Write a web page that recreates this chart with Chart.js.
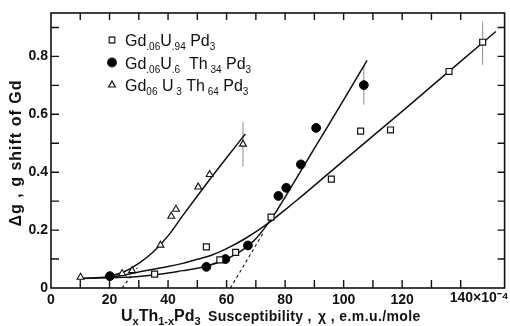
<!DOCTYPE html>
<html>
<head>
<meta charset="utf-8">
<script src="https://cdn.jsdelivr.net/npm/chart.js@4.4.1/dist/chart.umd.min.js"></script>
<style>
html,body{margin:0;padding:0;background:#fff;}
#wrap{width:510px;height:326px;position:relative;}
</style>
</head>
<body>
<div id="wrap"><canvas id="c" width="510" height="326"></canvas></div>
<script>
// ---- data ----
const squareX = [35.4, 53.1, 57.7, 63.1, 75.2, 95.8, 105.8, 116, 136, 147.5];
const squareY = [0.048, 0.142, 0.097, 0.123, 0.245, 0.376, 0.542, 0.546, 0.748, 0.849];
const circleX = [20.1, 53.1, 59.6, 67.3, 77.7, 80.4, 85.4, 90.6, 106.9];
const circleY = [0.041, 0.073, 0.100, 0.147, 0.318, 0.346, 0.427, 0.553, 0.701];
const triX = [10.1, 24.3, 27.7, 37.4, 41.1, 42.7, 50.3, 54.2, 65.6];
const triY = [0.037, 0.050, 0.060, 0.148, 0.248, 0.272, 0.349, 0.392, 0.497];

// drawn fit curves
const triFitX = [10, 15, 20, 25, 30, 35, 40, 45, 50, 55, 60, 66.4];
const triFitY = [0.033, 0.035, 0.041, 0.056, 0.085, 0.125, 0.18, 0.25, 0.318, 0.385, 0.45, 0.532];
const circFitX = [10, 20, 25, 30, 35, 40, 45, 50, 53.3, 60, 65, 67.6, 70, 73.3, 77, 80, 90, 100, 108];
const circFitY = [0.033, 0.035, 0.037, 0.040, 0.045, 0.052, 0.060, 0.068, 0.076, 0.100, 0.128, 0.148, 0.170, 0.211, 0.265, 0.314, 0.482, 0.650, 0.786];
const sqFitX = [20, 25, 30, 35, 40, 45, 50, 55, 60, 66.4, 73.3, 80, 84, 100, 120, 140, 152];
const sqFitY = [0.037, 0.045, 0.055, 0.065, 0.074, 0.085, 0.099, 0.114, 0.136, 0.171, 0.217, 0.27, 0.303, 0.44, 0.61, 0.783, 0.886];

// dashed extrapolations
const dashTriX = [24.3, 29.5];
const dashTriY = [0, 0.07];
const dashCircX = [61.3, 72.5];
const dashCircY = [0, 0.19];

// error bars [x, low, high]
const errSquare = [147.5, 0.77, 0.92];
const errCircle = [106.9, 0.633, 0.769];
const errTri = [65.6, 0.42, 0.573];

const xTickLabels = ['0', '20', '40', '60', '80', '100', '120'];
const xLastLabel = '140×10⁻⁴';
const yTickLabels = ['0', '0.2', '0.4', '0.6', '0.8'];

const legendRows = [
  {style: 'rect', fill: '#fff', parts: [['Gd',0],['.06',1],['U',0],['.94',1],[' Pd',0],['3',1]]},
  {style: 'circle', fill: '#000', parts: [['Gd',0],['.06',1],['U',0],['.6',1],['  Th',0],[' 34',1],[' Pd',0],['3',1]]},
  {style: 'triangle', fill: '#fff', parts: [['Gd',0],['06',1],[' U',0],[' 3',1],[' Th',0],[' 64',1],[' Pd',0],['3',1]]}
];
const xTitleParts1 = [['U',0],['x',1],['Th',0],['1-x',1],['Pd',0],['3',1]];
const xTitle2 = 'Susceptibility ,';
const xTitle3 = 'χ , e.m.u./mole';
const yTitle = 'Δg , g shift of Gd';

const zip = (xs, ys) => xs.map((x, i) => ({x, y: ys[i]}));
const FONT = '"Liberation Sans", Arial, sans-serif';

function richText(ctx, x, y, parts, size, subSize, weight) {
  let cx = x;
  for (const [t, sub] of parts) {
    ctx.font = `${weight} ${sub ? subSize : size}px ${FONT}`;
    ctx.fillText(t, cx, sub ? y + 4 : y);
    cx += ctx.measureText(t).width;
  }
}

const decor = {
  id: 'decor',
  afterDraw(chart) {
    const ctx = chart.ctx, a = chart.chartArea;
    const xs = chart.scales.x, ys = chart.scales.y;
    ctx.save();
    ctx.strokeStyle = '#111';
    ctx.lineWidth = 1.6;
    ctx.strokeRect(a.left, a.top, a.right - a.left, a.bottom - a.top);
    ctx.lineWidth = 1.4;
    ctx.beginPath();
    for (let v = 10; v <= 140; v += 10) {
      const px = xs.getPixelForValue(v);
      ctx.moveTo(px, a.bottom); ctx.lineTo(px, a.bottom - 8);
      ctx.moveTo(px, a.top); ctx.lineTo(px, a.top + 7);
    }
    for (let k = 1; k <= 9; k++) {
      const py = ys.getPixelForValue(k / 10);
      ctx.moveTo(a.left, py); ctx.lineTo(a.left + 8, py);
      ctx.moveTo(a.right, py); ctx.lineTo(a.right - 7, py);
    }
    ctx.stroke();

    ctx.fillStyle = '#111';
    ctx.textBaseline = 'alphabetic';
    // last x tick label
    ctx.font = `bold 14px ${FONT}`;
    ctx.textAlign = 'left';
    ctx.fillText(xLastLabel, xs.getPixelForValue(140) - 11, 302);

    // legend
    legendRows.forEach((r, i) => {
      const cy = 40 + i * 22.5;
      ctx.lineWidth = 1.2;
      ctx.strokeStyle = '#111';
      ctx.fillStyle = r.fill;
      Chart.helpers.drawPoint(ctx, {pointStyle: r.style, radius: r.style === 'circle' ? 4.3 : 4, borderWidth: 1.2}, 112, cy);
      ctx.fillStyle = '#111';
      richText(ctx, 125, cy + 6, r.parts, 16, 10, 'normal');
    });

    // x title
    ctx.fillStyle = '#111';
    richText(ctx, 121, 321, xTitleParts1, 16, 11, 'bold');
    ctx.font = `bold 14px ${FONT}`;
    ctx.letterSpacing = '0.3px';
    ctx.fillText(xTitle2, 208, 321);
    ctx.letterSpacing = '0.4px';
    ctx.fillText(xTitle3, 318, 321);

    // y title
    ctx.save();
    ctx.translate(21, 153);
    ctx.rotate(-Math.PI / 2);
    ctx.textAlign = 'center';
    ctx.font = `bold 16px ${FONT}`;
    ctx.letterSpacing = '1px';
    ctx.fillText(yTitle, 0, 0);
    ctx.restore();
    ctx.restore();
  }
};

const lineDs = (data, width, dash, color) => ({
  type: 'line', data, borderColor: color || '#111', borderWidth: width, borderDash: dash || [],
  pointRadius: 0, fill: false, cubicInterpolationMode: 'monotone', tension: 0.4
});
const err = e => lineDs([{x: e[0], y: e[1]}, {x: e[0], y: e[2]}], 1, [], '#888');

new Chart(document.getElementById('c'), {
  type: 'scatter',
  data: {
    datasets: [
      {data: zip(squareX, squareY), pointStyle: 'rect', pointRadius: 4.2, pointBackgroundColor: '#fff', pointBorderColor: '#111', pointBorderWidth: 1.2},
      {data: zip(circleX, circleY), pointStyle: 'circle', pointRadius: 4.4, pointBackgroundColor: '#000', pointBorderColor: '#000', pointBorderWidth: 1},
      {data: zip(triX, triY), pointStyle: 'triangle', pointRadius: 4, pointBackgroundColor: '#fff', pointBorderColor: '#111', pointBorderWidth: 1.1},
      lineDs(zip(triFitX, triFitY), 1.5),
      lineDs(zip(circFitX, circFitY), 1.5),
      lineDs(zip(sqFitX, sqFitY), 1.5),
      lineDs(zip(dashTriX, dashTriY), 1.1, [3, 3]),
      lineDs(zip(dashCircX, dashCircY), 1.1, [3, 3]),
      err(errSquare), err(errCircle), err(errTri)
    ]
  },
  options: {
    responsive: false,
    animation: false,
    devicePixelRatio: 1,
    layout: {padding: {top: 13, right: 3, left: 0, bottom: 0}},
    plugins: {legend: {display: false}, tooltip: {enabled: false}},
    scales: {
      x: {
        type: 'linear', min: 0, max: 155,
        grid: {display: false, drawTicks: false}, border: {display: false},
        afterFit(s) { s.height = 38; },
        afterBuildTicks(s) { s.ticks = xTickLabels.map(t => ({value: +t})); },
        ticks: {
          padding: 4, color: '#111', maxRotation: 0, autoSkip: false,
          font: {family: FONT, size: 14, weight: 'bold'},
          callback: v => xTickLabels.find(t => +t === v) || ''
        }
      },
      y: {
        type: 'linear', min: 0, max: 0.95,
        grid: {display: false, drawTicks: false}, border: {display: false},
        afterFit(s) { s.width = 51; },
        afterBuildTicks(s) { s.ticks = yTickLabels.map(t => ({value: +t})); },
        ticks: {
          padding: 3, color: '#111', autoSkip: false,
          font: {family: FONT, size: 14, weight: 'bold'},
          callback: v => yTickLabels.find(t => Math.abs(+t - v) < 1e-9) || ''
        }
      }
    }
  },
  plugins: [decor]
});
</script>
</body>
</html>
